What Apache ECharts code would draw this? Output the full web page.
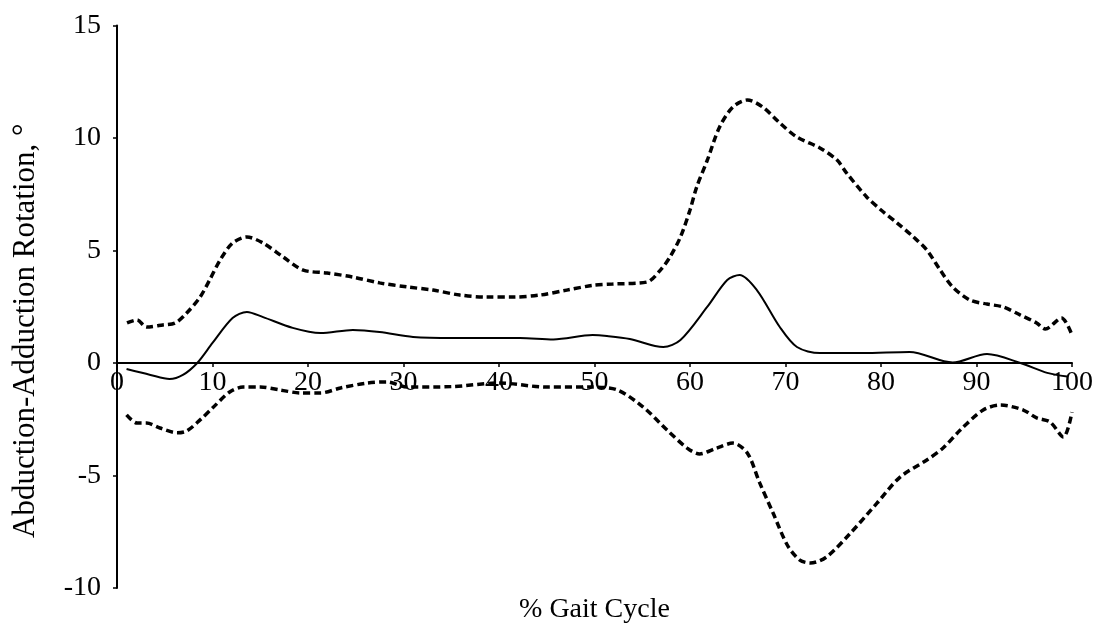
<!DOCTYPE html>
<html>
<head>
<meta charset="utf-8">
<title>Abduction-Adduction Rotation over the Gait Cycle</title>
<script src="https://cdn.jsdelivr.net/npm/echarts@6/dist/echarts.min.js"></script>
<style>
  html, body { margin: 0; padding: 0; background: #fff; }
  #chart { width: 1104px; height: 629px; }
</style>
</head>
<body>
<div id="chart"></div>
<script>
// Mean curve (% gait cycle, degrees)
const meanPct = [1, 3.5, 5.5, 6.9, 8.4, 10, 12.1, 13.6, 15.3, 18.4, 21.3, 24.7, 27.5, 31, 35.2, 42.2, 45.7, 49.8, 51.3, 53.7, 57.2, 59, 61.8, 63.9, 65.2, 67, 69.4, 71.2, 73.6, 78.1, 83, 87.5, 91.1, 94.6, 97.4, 99.5];
const meanVal = [-0.27, -0.53, -0.71, -0.53, 0, 0.89, 2.0, 2.27, 2.04, 1.56, 1.33, 1.47, 1.38, 1.16, 1.11, 1.11, 1.05, 1.24, 1.2, 1.07, 0.71, 1.02, 2.49, 3.69, 3.91, 3.24, 1.6, 0.71, 0.44, 0.44, 0.49, 0.02, 0.4, 0, -0.44, -0.6];

// Upper bound curve
const upperPct = [1.05, 2.1, 3.1, 4.8, 6.1, 7.3, 8.7, 9.7, 10.8, 12.1, 13.6, 15.3, 17.4, 19.5, 22, 24.7, 27.5, 30.4, 33.1, 35.9, 38.7, 41.5, 44.3, 47.1, 49.8, 51.9, 55.5, 56.9, 57.9, 59, 60, 60.7, 61.8, 63.1, 64.5, 66, 67.6, 69.4, 71.2, 73.6, 75.4, 76.4, 78.5, 80, 81.7, 83.4, 84.8, 86.2, 87.5, 89.3, 91.1, 92.8, 94.6, 96.3, 97.2, 98.9, 100];
const upperVal = [1.78, 1.91, 1.6, 1.69, 1.78, 2.22, 2.93, 3.69, 4.58, 5.33, 5.6, 5.33, 4.71, 4.13, 4.0, 3.82, 3.56, 3.38, 3.24, 3.02, 2.93, 2.93, 3.02, 3.24, 3.45, 3.51, 3.6, 4.13, 4.71, 5.6, 6.8, 7.82, 9.0, 10.49, 11.38, 11.69, 11.38, 10.67, 10.04, 9.56, 9.02, 8.44, 7.38, 6.8, 6.22, 5.6, 5.02, 4.13, 3.38, 2.8, 2.62, 2.49, 2.13, 1.78, 1.51, 2.0, 1.24];

// Lower bound curve
const lowerPct = [1.0, 2.1, 3.1, 4.5, 6.3, 7.3, 8.7, 10, 11.8, 13.2, 15, 17.1, 19.2, 21.3, 23.4, 26.2, 28.3, 30.4, 35, 40, 45, 49.8, 52.4, 55.1, 57.6, 59.7, 61, 62.8, 64.5, 66, 67.3, 68.7, 70.2, 71.5, 72.6, 74.3, 76.8, 79.6, 82, 84.8, 86.5, 88.3, 90.7, 92.5, 94.9, 96.3, 97.7, 99.1, 100];
const lowerVal = [-2.31, -2.67, -2.67, -2.89, -3.1, -3.02, -2.53, -2.0, -1.29, -1.07, -1.07, -1.2, -1.33, -1.33, -1.11, -0.89, -0.84, -1.07, -1.05, -0.89, -1.07, -1.07, -1.2, -1.96, -2.98, -3.78, -4.04, -3.78, -3.56, -4.0, -5.33, -6.67, -8.1, -8.76, -8.89, -8.62, -7.56, -6.22, -5.07, -4.31, -3.78, -2.98, -2.09, -1.87, -2.09, -2.44, -2.62, -3.29, -2.18];

// Axis ranges and ticks
const xMin = 0, xMax = 100, xStep = 10;
const yMin = -10, yMax = 15, yStep = 5;

const xTitle = '% Gait Cycle';
const yTitle = 'Abduction-Adduction Rotation, °';

const serif = "'Liberation Serif', 'Times New Roman', serif";

// Plot area in pixels
const gridTop = 25.5, gridBottom = 41;
const plotHeight = 629 - gridTop - gridBottom;
// Shift of the x axis from the grid bottom up to the zero line
const zeroShift = plotHeight * (0 - yMin) / (yMax - yMin);

function pairs(xs, ys) {
  return xs.map((x, i) => [x, ys[i]]);
}

const chart = echarts.init(document.getElementById('chart'), null, { renderer: 'canvas' });

const dashed = { color: '#000', width: 3.5, type: [7, 4], cap: 'butt' };

chart.setOption({
  backgroundColor: '#fff',
  animation: false,
  grid: { left: 117, right: 32, top: gridTop, bottom: gridBottom, containLabel: false, outerBoundsMode: 'none' },
  xAxis: {
    type: 'value',
    position: 'bottom',
    offset: -zeroShift,
    min: xMin, max: xMax, interval: xStep,
    name: xTitle,
    nameLocation: 'middle',
    nameGap: 233,
    nameTextStyle: { fontFamily: serif, fontSize: 28, color: '#000' },
    axisLine: { onZero: false, lineStyle: { color: '#000', width: 2 } },
    axisTick: { show: true, length: 4, lineStyle: { color: '#000', width: 1.5 } },
    axisLabel: { fontFamily: serif, fontSize: 28, color: '#000', margin: 6 },
    splitLine: { show: false }
  },
  yAxis: {
    type: 'value',
    min: yMin, max: yMax, interval: yStep,
    name: yTitle,
    nameLocation: 'middle',
    nameGap: 76,
    nameRotate: 90,
    nameTextStyle: { fontFamily: serif, fontSize: 31, color: '#000', padding: [0, 48, 0, 0] },
    axisLine: { show: true, onZero: false, lineStyle: { color: '#000', width: 2 } },
    axisTick: { show: true, length: 4, lineStyle: { color: '#000', width: 1.5 } },
    axisLabel: { fontFamily: serif, fontSize: 28, color: '#000', margin: 16 },
    splitLine: { show: false }
  },
  series: [
    {
      name: 'Upper',
      type: 'line',
      data: pairs(upperPct, upperVal),
      smooth: 0.3,
      showSymbol: false,
      lineStyle: dashed
    },
    {
      name: 'Mean',
      type: 'line',
      data: pairs(meanPct, meanVal),
      smooth: 0.3,
      showSymbol: false,
      lineStyle: { color: '#000', width: 2 }
    },
    {
      name: 'Lower',
      type: 'line',
      data: pairs(lowerPct, lowerVal),
      smooth: 0.3,
      showSymbol: false,
      lineStyle: dashed
    }
  ]
});
</script>
</body>
</html>
